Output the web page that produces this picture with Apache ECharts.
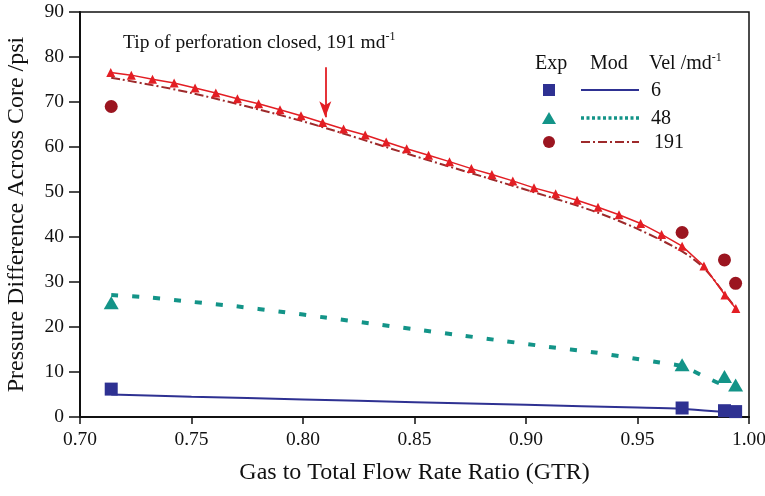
<!DOCTYPE html>
<html><head><meta charset="utf-8">
<script src="https://cdn.jsdelivr.net/npm/echarts@6/dist/echarts.min.js"></script>
<style>html,body{margin:0;padding:0;background:#fff}#c{width:765px;height:496px}</style>
</head><body><div id="c"></div>
<script>
// Experimental points
const exp6 = [[0.714,6.2],[0.970,2.0],[0.989,1.4],[0.994,1.2]];
const exp48 = [[0.714,25.4],[0.970,11.6],[0.989,9.0],[0.994,7.1]];
const exp191 = [[0.714,69.0],[0.970,41.0],[0.989,34.9],[0.994,29.7]];
// Model curves
const mod6 = [[0.714,5.0],[0.75,4.5],[0.80,3.9],[0.85,3.3],[0.90,2.7],[0.95,2.1],[0.97,1.8],[0.99,1.1],[0.995,0.9]];
const mod48 = [[0.714,27.1],[0.73,26.6],[0.75,25.6],[0.77,24.6],[0.79,23.4],[0.81,22.1],[0.83,20.8],[0.85,19.5],[0.87,18.2],[0.89,16.9],[0.91,15.6],[0.93,14.4],[0.95,12.9],[0.96,12.1],[0.97,11.3],[0.98,9.0],[0.99,6.8],[0.995,6.2]];
const mod191 = [[0.714,75.4],[0.75,72.0],[0.80,65.7],[0.85,58.0],[0.90,50.5],[0.93,45.8],[0.95,41.8],[0.97,36.8],[0.98,33.0],[0.99,26.8],[0.995,23.6]];
// Tip of perforation closed, 191 md-1
const tip191 = [[0.7138,76.55],[0.7230,75.97],[0.7325,75.08],[0.7422,74.20],[0.7516,73.09],[0.7609,71.98],[0.7706,70.72],[0.7801,69.61],[0.7897,68.28],[0.7991,66.95],[0.8088,65.46],[0.8182,64.00],[0.8279,62.67],[0.8373,61.12],[0.8465,59.63],[0.8563,58.15],[0.8657,56.75],[0.8755,55.20],[0.8847,53.87],[0.8941,52.47],[0.9036,50.92],[0.9133,49.59],[0.9229,48.17],[0.9323,46.62],[0.9417,44.93],[0.9514,43.01],[0.9608,40.57],[0.9700,37.97],[0.9798,33.54],[0.9892,27.11],[0.9941,24.10]];
const arrowFrom = [0.810, 77.7];
const arrowTo = [0.810, 66.6];
const xTicks = {min:0.70, max:1.00, interval:0.05};
const yTicks = {min:0, max:90, interval:10};

const FONT = '"Liberation Serif","Times New Roman",serif';
const NAVY = '#2E3192', TEAL = '#139488', DRED = '#9B1520', RED = '#E31E24', DDRED = '#9E2A2B';

const chart = echarts.init(document.getElementById('c'), null, {renderer:'canvas'});
const lx1 = 581, lx2 = 639;
const T = (x, y, s, size) => ({type:'text', x:x, y:y, style:{text:s, fontFamily:FONT, fontSize:size||20, fill:'#111', verticalAlign:'middle'}});
chart.setOption({
  animation:false,
  grid:{left:80, right:16, top:12, bottom:79, outerBoundsMode:'none', containLabel:false, show:true, borderColor:'#111', borderWidth:1.5, backgroundColor:'transparent'},
  xAxis:{type:'value', min:xTicks.min, max:xTicks.max, interval:xTicks.interval,
    name:'Gas to Total Flow Rate Ratio (GTR)', nameLocation:'middle', nameGap:44,
    nameTextStyle:{fontFamily:FONT, fontSize:24, color:'#111'},
    axisLine:{lineStyle:{color:'#111', width:2}},
    axisTick:{inside:false, length:7, lineStyle:{color:'#111', width:1.5}},
    axisLabel:{fontFamily:FONT, fontSize:19.5, color:'#111', margin:13, formatter:v=>v.toFixed(2)},
    splitLine:{show:false}},
  yAxis:{type:'value', min:yTicks.min, max:yTicks.max, interval:yTicks.interval,
    name:'Pressure Difference Across Core /psi', nameLocation:'middle', nameGap:51,
    nameTextStyle:{fontFamily:FONT, fontSize:24, color:'#111'},
    axisLine:{lineStyle:{color:'#111', width:2}},
    axisTick:{inside:false, length:11, lineStyle:{color:'#111', width:1.5}},
    axisLabel:{fontFamily:FONT, fontSize:19.5, color:'#111', margin:16},
    splitLine:{show:false}},
  series:[
    {type:'line', data:mod6, smooth:0.3, showSymbol:false, lineStyle:{color:NAVY, width:2}, z:2},
    {type:'line', data:mod48, smooth:0.3, showSymbol:false, lineStyle:{color:TEAL, width:4, type:[7,14]}, z:2},
    {type:'line', data:mod191, smooth:0.3, showSymbol:false, lineStyle:{color:DDRED, width:2, type:[9,3,2,3]}, z:2},
    {type:'line', data:tip191, symbol:'triangle', symbolSize:9, itemStyle:{color:RED, opacity:1}, lineStyle:{color:RED, width:1.5}, z:3,
      markLine:{silent:true, symbol:['none','arrow'], symbolSize:[9,16], label:{show:false},
        lineStyle:{color:RED, width:1.8, type:'solid'},
        data:[[{coord:arrowFrom},{coord:arrowTo}]]}},
    {type:'scatter', data:exp6, symbol:'rect', symbolSize:13, itemStyle:{color:NAVY, opacity:1}, z:4},
    {type:'scatter', data:exp48, symbol:'triangle', symbolSize:[15,13], itemStyle:{color:TEAL, opacity:1}, z:4},
    {type:'scatter', data:exp191, symbol:'circle', symbolSize:13, itemStyle:{color:DRED, opacity:1}, z:4}
  ],
  graphic:[
    {type:'text', left:123, top:31, style:{text:'{n|Tip of perforation closed, 191 md}{s|-1}', rich:{
      n:{fontFamily:FONT, fontSize:19.5, fill:'#111', lineHeight:22, verticalAlign:'bottom'},
      s:{fontFamily:FONT, fontSize:12, fill:'#111', lineHeight:22, verticalAlign:'top'}}}},
    T(535, 64, 'Exp'), T(590, 64, 'Mod'),
    {type:'text', left:649, top:52, style:{text:'{n|Vel /md}{s|-1}', rich:{
      n:{fontFamily:FONT, fontSize:20, fill:'#111', lineHeight:22, verticalAlign:'bottom'},
      s:{fontFamily:FONT, fontSize:12, fill:'#111', lineHeight:22, verticalAlign:'top'}}}},
    {type:'rect', shape:{x:543, y:84, width:12, height:12}, style:{fill:NAVY}},
    {type:'line', shape:{x1:lx1, y1:90, x2:lx2, y2:90}, style:{stroke:NAVY, lineWidth:2}},
    T(651, 91, '6'),
    {type:'polygon', shape:{points:[[549,112],[542,124],[556,124]]}, style:{fill:TEAL}},
    {type:'line', shape:{x1:lx1, y1:118, x2:lx2, y2:118}, style:{stroke:TEAL, lineWidth:3.5, lineDash:[3,2.5]}},
    T(651, 119, '48'),
    {type:'circle', shape:{cx:549, cy:142, r:6}, style:{fill:DRED}},
    {type:'line', shape:{x1:lx1, y1:142, x2:lx2, y2:142}, style:{stroke:DDRED, lineWidth:2, lineDash:[9,3,2,3]}},
    T(654, 143, '191')
  ]
});
</script></body></html>
